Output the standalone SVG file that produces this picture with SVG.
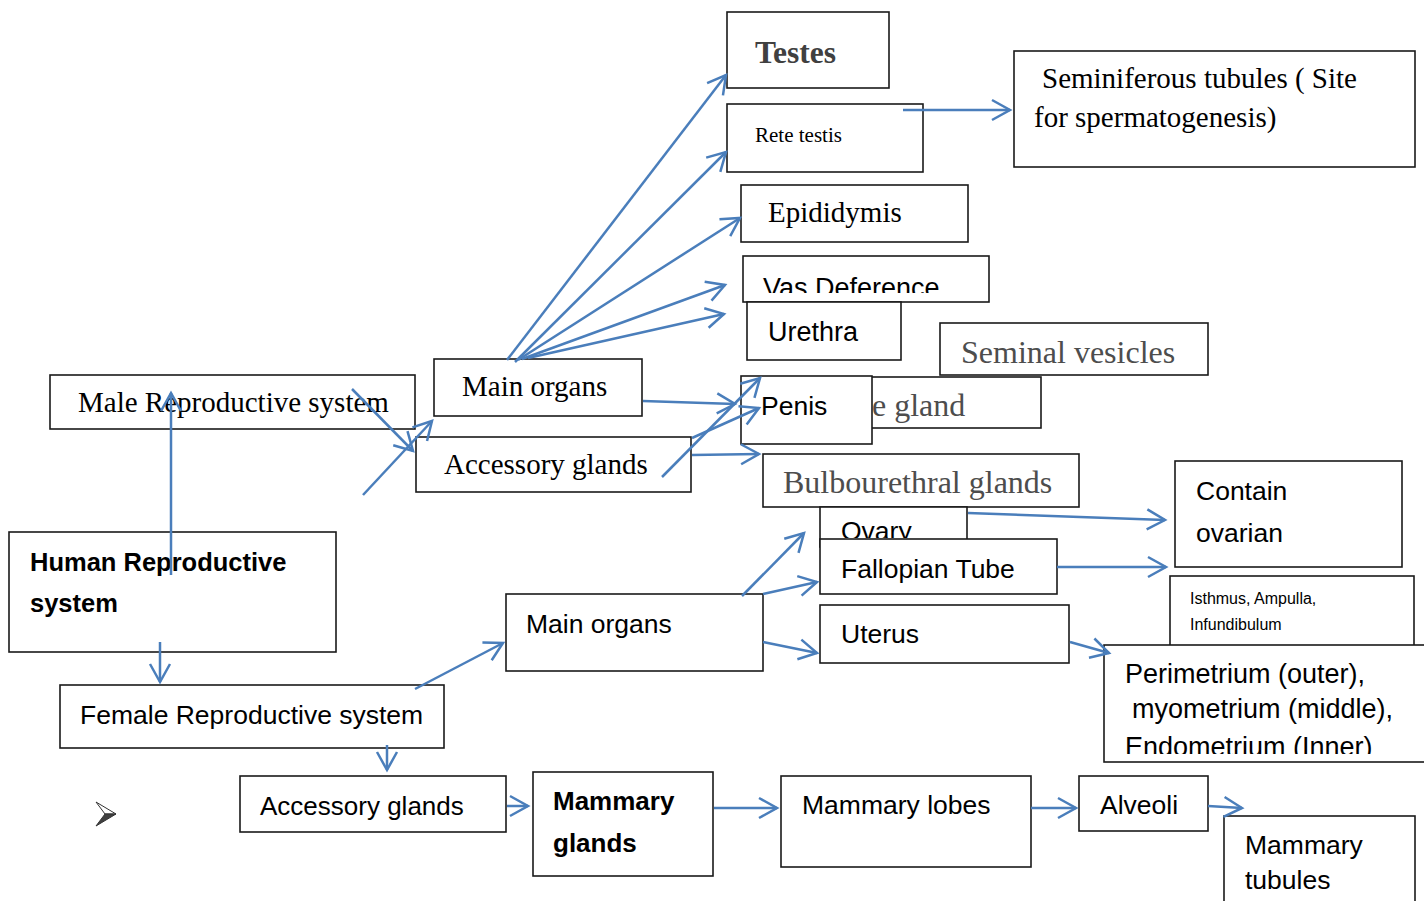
<svg xmlns="http://www.w3.org/2000/svg" width="1424" height="901" viewBox="0 0 1424 901">
  <style>
    .box { fill: #ffffff; stroke: #1a1a1a; stroke-width: 1.6; }
    .serif { font-family: "Liberation Serif", "Times New Roman", serif; font-size: 29px; fill: #000; }
    .grey { fill: #4d4d4d; font-size: 32px; }
    .sans { font-family: "Liberation Sans", Arial, sans-serif; font-size: 26.5px; fill: #000; }
    .bold { font-weight: bold; }
    .link { fill: none; stroke: #4a7ebb; stroke-width: 2.5; marker-end: url(#ah); }
  </style>
  <defs>
    <marker id="ah" markerUnits="userSpaceOnUse" markerWidth="26" markerHeight="26" viewBox="-22 -13 26 26" refX="0" refY="0" orient="auto">
      <path d="M-18,-10 L0,0 L-18,10" fill="none" stroke="#4a7ebb" stroke-width="2.5" stroke-linejoin="miter"/>
    </marker>
    <clipPath id="clipVas"><rect x="743" y="256" width="246" height="37"/></clipPath>
    <clipPath id="clipOvary"><rect x="820" y="507" width="147" height="31"/></clipPath>
    <clipPath id="clipPeri"><rect x="1104" y="645" width="320" height="109"/></clipPath>
  </defs>

  <rect width="1424" height="901" fill="#ffffff"/>

  <!-- male branch -->
  <g id="testes">
    <rect class="box" x="727" y="12" width="162" height="76"/>
    <text class="serif bold" x="755" y="63" style="font-size:31.5px;fill:#404040">Testes</text>
  </g>
  <g id="rete-testis">
    <rect class="box" x="727" y="104" width="196" height="68"/>
    <text class="serif" x="755" y="142" style="font-size:21px">Rete testis</text>
  </g>
  <g id="seminiferous">
    <rect class="box" x="1014" y="51" width="401" height="116"/>
    <text class="serif" x="1042" y="88">Seminiferous tubules ( Site</text>
    <text class="serif" x="1034" y="127">for spermatogenesis)</text>
  </g>
  <g id="epididymis">
    <rect class="box" x="741" y="185" width="227" height="57"/>
    <text class="serif" x="768" y="222">Epididymis</text>
  </g>
  <g id="vas-deference">
    <rect class="box" x="743" y="256" width="246" height="46"/>
    <text class="sans" x="763" y="297" clip-path="url(#clipVas)" style="font-size:27px">Vas Deference</text>
  </g>
  <g id="urethra">
    <rect class="box" x="747" y="302" width="154" height="58"/>
    <text class="sans" x="768" y="341" style="font-size:27px">Urethra</text>
  </g>
  <g id="seminal-vesicles">
    <rect class="box" x="940" y="323" width="268" height="52"/>
    <text class="serif grey" x="961" y="363">Seminal vesicles</text>
  </g>
  <g id="prostate-gland">
    <rect class="box" x="860" y="377" width="181" height="51"/>
    <text class="serif grey" x="872" y="416">e gland</text>
  </g>
  <g id="penis">
    <rect class="box" x="741" y="376" width="131" height="68"/>
    <text class="sans" x="761" y="415">Penis</text>
  </g>
  <g id="bulbourethral">
    <rect class="box" x="763" y="454" width="316" height="53"/>
    <text class="serif grey" x="783" y="493">Bulbourethral glands</text>
  </g>
  <g id="male-system">
    <rect class="box" x="50" y="375" width="365" height="54"/>
    <text class="serif" x="78" y="412">Male Reproductive system</text>
  </g>
  <g id="male-main-organs">
    <rect class="box" x="434" y="359" width="208" height="57"/>
    <text class="serif" x="462" y="396">Main organs</text>
  </g>
  <g id="male-accessory">
    <rect class="box" x="416" y="437" width="275" height="55"/>
    <text class="serif" x="444" y="474">Accessory glands</text>
  </g>

  <!-- root -->
  <g id="human-system">
    <rect class="box" x="9" y="532" width="327" height="120"/>
    <text class="sans bold" x="30" y="571" style="font-size:25.5px">Human Reproductive</text>
    <text class="sans bold" x="30" y="612" style="font-size:25.5px">system</text>
  </g>

  <!-- female branch -->
  <g id="ovary">
    <rect class="box" x="820" y="507" width="147" height="40"/>
    <text class="sans" x="841" y="540" clip-path="url(#clipOvary)">Ovary</text>
  </g>
  <g id="fallopian-tube">
    <rect class="box" x="820" y="539" width="237" height="55"/>
    <text class="sans" x="841" y="578">Fallopian Tube</text>
  </g>
  <g id="uterus">
    <rect class="box" x="820" y="605" width="249" height="58"/>
    <text class="sans" x="841" y="643">Uterus</text>
  </g>
  <g id="contain-ovarian">
    <rect class="box" x="1175" y="461" width="227" height="106"/>
    <text class="sans" x="1196" y="500">Contain</text>
    <text class="sans" x="1196" y="542">ovarian</text>
  </g>
  <g id="tube-parts">
    <rect class="box" x="1170" y="576" width="244" height="80"/>
    <text class="sans" x="1190" y="604" style="font-size:16px">Isthmus, Ampulla,</text>
    <text class="sans" x="1190" y="630" style="font-size:16px">Infundibulum</text>
  </g>
  <g id="uterus-layers">
    <rect class="box" x="1104" y="645" width="330" height="117"/>
    <text class="sans" x="1125" y="683" style="font-size:27px">Perimetrium (outer),</text>
    <text class="sans" x="1132" y="718" style="font-size:27px">myometrium (middle),</text>
    <text class="sans" x="1125" y="756" clip-path="url(#clipPeri)" style="font-size:27px">Endometrium (Inner)</text>
  </g>
  <g id="female-system">
    <rect class="box" x="60" y="685" width="384" height="63"/>
    <text class="sans" x="80" y="724">Female Reproductive system</text>
  </g>
  <g id="female-main-organs">
    <rect class="box" x="506" y="594" width="257" height="77"/>
    <text class="sans" x="526" y="633">Main organs</text>
  </g>
  <g id="female-accessory">
    <rect class="box" x="240" y="776" width="266" height="56"/>
    <text class="sans" x="260" y="815" style="font-size:26px">Accessory glands</text>
  </g>
  <g id="mammary-glands">
    <rect class="box" x="533" y="772" width="180" height="104"/>
    <text class="sans bold" x="553" y="810" style="font-size:26px">Mammary</text>
    <text class="sans bold" x="553" y="852" style="font-size:26px">glands</text>
  </g>
  <g id="mammary-lobes">
    <rect class="box" x="781" y="776" width="250" height="91"/>
    <text class="sans" x="802" y="814">Mammary lobes</text>
  </g>
  <g id="alveoli">
    <rect class="box" x="1079" y="776" width="129" height="55"/>
    <text class="sans" x="1100" y="814">Alveoli</text>
  </g>
  <g id="mammary-tubules">
    <rect class="box" x="1224" y="816" width="191" height="100"/>
    <text class="sans" x="1245" y="854">Mammary</text>
    <text class="sans" x="1245" y="889">tubules</text>
  </g>

  <!-- bullet mark -->
  <g id="bullet">
    <polygon points="96,802 116,814 105,814" fill="#ffffff" stroke="#333333" stroke-width="1"/>
    <polygon points="105,814 116,814 96,826" fill="#404040" stroke="#333333" stroke-width="1"/>
  </g>

  <!-- connectors -->
  <g id="connectors">
    <line class="link" x1="171" y1="575" x2="171" y2="393"/>
    <line class="link" x1="352" y1="389" x2="413" y2="451"/>
    <line class="link" x1="363" y1="495" x2="432" y2="421"/>

    <line class="link" x1="507" y1="360" x2="726" y2="75"/>
    <line class="link" x1="515" y1="362" x2="726" y2="152"/>
    <line class="link" x1="518" y1="360" x2="740" y2="218"/>
    <line class="link" x1="522" y1="359" x2="725" y2="285"/>
    <line class="link" x1="528" y1="358" x2="724" y2="314"/>

    <line class="link" x1="903" y1="110" x2="1010" y2="110"/>

    <line class="link" x1="643" y1="401" x2="735" y2="404"/>
    <line class="link" x1="662" y1="477" x2="760" y2="378"/>
    <line class="link" x1="692" y1="438" x2="759" y2="408"/>
    <line class="link" x1="692" y1="455" x2="759" y2="454"/>

    <line class="link" x1="160" y1="642" x2="160" y2="682"/>
    <line class="link" x1="415" y1="689" x2="503" y2="643"/>
    <line class="link" x1="387" y1="745" x2="387" y2="770"/>

    <line class="link" x1="742" y1="596" x2="804" y2="533"/>
    <line class="link" x1="763" y1="594" x2="817" y2="582"/>
    <line class="link" x1="763" y1="642" x2="817" y2="653"/>

    <line class="link" x1="968" y1="513" x2="1165" y2="520"/>
    <line class="link" x1="1057" y1="567" x2="1166" y2="567"/>
    <line class="link" x1="1070" y1="642" x2="1109" y2="653"/>

    <line class="link" x1="507" y1="806" x2="528" y2="806"/>
    <line class="link" x1="714" y1="808" x2="777" y2="808"/>
    <line class="link" x1="1031" y1="808" x2="1076" y2="808"/>
    <line class="link" x1="1208" y1="806" x2="1242" y2="808"/>
  </g>
</svg>
